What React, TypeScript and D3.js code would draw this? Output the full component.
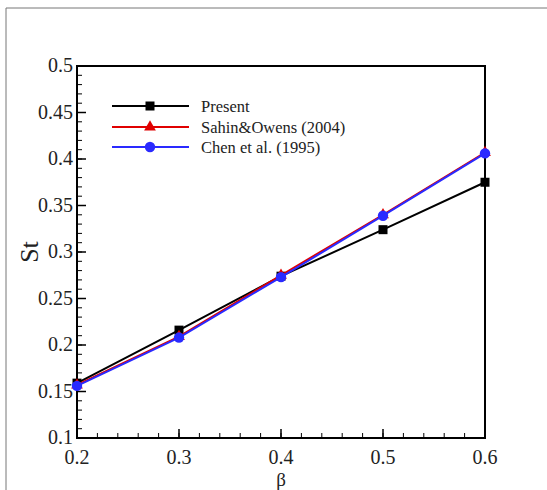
import React from "react";
import * as d3 from "d3";

const betaValues = [0.2, 0.3, 0.4, 0.5, 0.6];
const presentSt = [0.159, 0.216, 0.274, 0.324, 0.375];
const sahinSt = [0.157, 0.209, 0.275, 0.340, 0.407];
const chenSt = [0.156, 0.208, 0.273, 0.339, 0.406];
const seriesNames = ["Present", "Sahin&Owens (2004)", "Chen et al. (1995)"];
const xTicks = [0.2, 0.3, 0.4, 0.5, 0.6];
const yTicks = [0.1, 0.15, 0.2, 0.25, 0.3, 0.35, 0.4, 0.45, 0.5];

const W = 547;
const H = 490;
const left = 77, right = 485, top = 66, bottom = 438;

export default function App() {
  const x = d3.scaleLinear().domain([0.2, 0.6]).range([left, right]);
  const y = d3.scaleLinear().domain([0.1, 0.5]).range([bottom, top]);
  const line = d3.line<number>().x((_, i) => x(betaValues[i])).y((d) => y(d));
  const font = "Liberation Serif, Times New Roman, serif";

  const xMinor = d3.range(0, 21).map((i) => 0.2 + i * 0.02);
  const yMinor = d3.range(0, 41).map((i) => 0.1 + i * 0.01);

  const series = [
    { name: seriesNames[0], data: presentSt, color: "#000000", marker: "square" },
    { name: seriesNames[1], data: sahinSt, color: "#e00000", marker: "triangle" },
    { name: seriesNames[2], data: chenSt, color: "#2a2aff", marker: "circle" },
  ];

  const marker = (type: string, cx: number, cy: number, color: string, key: string) => {
    if (type === "square") return <rect key={key} x={cx - 4.5} y={cy - 4.5} width={9} height={9} fill={color} />;
    if (type === "triangle") {
      const p = d3.symbol(d3.symbolTriangle, 60)();
      return <path key={key} d={p || ""} transform={`translate(${cx},${cy})`} fill={color} />;
    }
    return <circle key={key} cx={cx} cy={cy} r={5.2} fill={color} />;
  };

  const legendX1 = 112, legendX2 = 189, legendMX = 150, legendTX = 201;
  const legendY = [106, 127, 147];

  return (
    <svg width={W} height={H} style={{ position: "absolute", left: 0, top: 0, background: "#fff", fontFamily: font }}>
      <line x1={6} y1={8} x2={W} y2={8} stroke="#777" strokeWidth={1} />
      <line x1={6} y1={8} x2={6} y2={H} stroke="#777" strokeWidth={1} />

      {xMinor.map((v, i) => (
        <line key={"xm" + i} x1={x(v)} x2={x(v)} y1={bottom} y2={bottom - 5} stroke="#000" strokeWidth={1} />
      ))}
      {xTicks.map((v, i) => (
        <line key={"xM" + i} x1={x(v)} x2={x(v)} y1={bottom} y2={bottom - 9} stroke="#000" strokeWidth={1.5} />
      ))}
      {yMinor.map((v, i) => (
        <line key={"ym" + i} x1={left} x2={left + 5} y1={y(v)} y2={y(v)} stroke="#000" strokeWidth={1} />
      ))}
      {yTicks.map((v, i) => (
        <line key={"yM" + i} x1={left} x2={left + 9} y1={y(v)} y2={y(v)} stroke="#000" strokeWidth={1.5} />
      ))}

      <rect x={left} y={top} width={right - left} height={bottom - top} fill="none" stroke="#000" strokeWidth={2} />

      {xTicks.map((v, i) => (
        <text key={"xt" + i} x={x(v)} y={bottom + 26} textAnchor="middle" style={{ fontFamily: font }} fontSize={20} fill="#222">
          {String(v)}
        </text>
      ))}
      {yTicks.map((v, i) => (
        <text key={"yt" + i} x={left - 4} y={y(v) + 6} textAnchor="end" style={{ fontFamily: font }} fontSize={20} fill="#222">
          {String(v)}
        </text>
      ))}
      <text x={(left + right) / 2} y={486} textAnchor="middle" style={{ fontFamily: font }} fontSize={19} fill="#222">β</text>
      <text transform={`translate(38,${(top + bottom) / 2}) rotate(-90)`} textAnchor="middle" style={{ fontFamily: font }} fontSize={26} fill="#222">St</text>

      {series.map((s, si) => (
        <g key={"s" + si}>
          <path d={line(s.data) || ""} fill="none" stroke={s.color} strokeWidth={2} />
          {s.data.map((v, i) => marker(s.marker, x(betaValues[i]), y(v), s.color, "m" + si + "-" + i))}
        </g>
      ))}

      {series.map((s, si) => (
        <g key={"l" + si}>
          <line x1={legendX1} x2={legendX2} y1={legendY[si]} y2={legendY[si]} stroke={s.color} strokeWidth={2} />
          {marker(s.marker, legendMX, legendY[si], s.color, "lm" + si)}
          <text x={legendTX} y={legendY[si] + 5.5} style={{ fontFamily: font }} fontSize={16.5} fill="#222">{s.name}</text>
        </g>
      ))}
    </svg>
  );
}
